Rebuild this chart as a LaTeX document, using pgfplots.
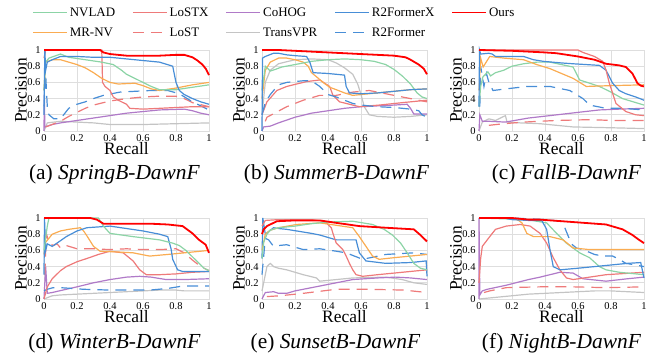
\documentclass[border=0pt]{standalone}
\usepackage{pgfplots}
\pgfplotsset{compat=1.18}
\usepackage{fontspec}
\setmainfont{Liberation Serif}
\definecolor{cNV}{RGB}{140,212,166}
\definecolor{cMR}{RGB}{250,172,82}
\definecolor{cLX}{RGB}{238,122,122}
\definecolor{cCH}{RGB}{176,122,200}
\definecolor{cTV}{RGB}{196,196,196}
\definecolor{cRX}{RGB}{72,142,215}
\definecolor{cOurs}{RGB}{255,0,0}
\tikzset{
  nv/.style={color=cNV, line width=1.2bp},
  mr/.style={color=cMR, line width=1.2bp},
  lx/.style={color=cLX, line width=1.2bp},
  ls/.style={color=cLX, line width=1.2bp, dash pattern=on 11bp off 7bp},
  ch/.style={color=cCH, line width=1.2bp},
  tv/.style={color=cTV, line width=1.2bp},
  rx/.style={color=cRX, line width=1.2bp},
  rf/.style={color=cRX, line width=1.2bp, dash pattern=on 11bp off 7bp},
  ours/.style={color=cOurs, line width=1.8bp},
}
\pgfplotsset{
  pr/.style={scale only axis, width=165bp, height=81bp, anchor=south west,
    xmin=0, xmax=1, ymin=0, ymax=1,
    xtick={0,0.2,0.4,0.6,0.8,1}, ytick={0,0.2,0.4,0.6,0.8,1},
    grid=major, major grid style={black!13, line width=0.7bp},
    axis line style={black!13}, major tick length=0pt,
    tick label style={font=\fontsize{10.5}{10.5}\selectfont},
    /pgf/number format/assume math mode=true,
    xlabel={Recall}, ylabel={Precision},
    every axis y label/.style={at={(axis description cs:0,0.5)}, xshift=-23bp, anchor=center, rotate=90, font=\fontsize{17.5}{17.5}\selectfont},
    every axis x label/.style={at={(axis description cs:0.5,0)}, anchor=center, yshift=-18bp, font=\fontsize{17.5}{17.5}\selectfont},
    clip=false, no marks},
}
\newcommand{\subcap}[3]{\node[font=\fontsize{21.5}{21.5}\selectfont, anchor=base] at (axis description cs:0.5,0) [yshift=-49bp, xshift=#3] {(#1) \textit{#2}};}
\begin{document}
\begin{tikzpicture}
\path[use as bounding box] (0,0) rectangle (660bp,356bp);
% legend
\begin{axis}[at={(0,0)}, anchor=south west, scale only axis, width=660bp, height=356bp, hide axis,
  xmin=0, xmax=1, ymin=0, ymax=1, legend columns=5, legend cell align=left,
  legend style={at={(0.0485,0.985)}, anchor=north west, draw=none, fill=none, inner sep=0pt,
    font=\fontsize{13}{13}\selectfont, nodes={font=\fontsize{13}{13}\selectfont}, row sep=6bp,
    /tikz/every even column/.append style={column sep=15bp}},
  legend image code/.code={\draw[#1, line width=1.6bp] (0bp,0bp) -- (34bp,0bp);}]
\addlegendimage{nv, draw=cNV}\addlegendentry{NVLAD}
\addlegendimage{lx, draw=cLX}\addlegendentry{LoSTX}
\addlegendimage{ch, draw=cCH}\addlegendentry{CoHOG}
\addlegendimage{rx, draw=cRX}\addlegendentry{R2FormerX}
\addlegendimage{ours, draw=cOurs}\addlegendentry{Ours}
\addlegendimage{mr, draw=cMR}\addlegendentry{MR-NV}
\addlegendimage{ls, draw=cLX}\addlegendentry{LoST}
\addlegendimage{tv, draw=cTV}\addlegendentry{TransVPR}
\addlegendimage{rf, draw=cRX}\addlegendentry{R2Former}
\end{axis}
% (a)
\begin{axis}[pr, at={(44bp,225bp)}]
\addplot[tv] coordinates {(0,0) (0.02,0.1) (0.1,0.12) (0.2,0.11) (0.3,0.1) (0.4,0.08) (0.6,0.08) (0.8,0.09) (1,0.1)};
\addplot[ch] coordinates {(0,0) (0.002,0.45) (0.005,0.05) (0.05,0.08) (0.1,0.1) (0.3,0.16) (0.5,0.22) (0.7,0.26) (0.85,0.27) (0.9,0.25) (0.95,0.22) (1,0.2)};
\addplot[ls] coordinates {(0.01,0.05) (0.1,0.12) (0.15,0.18) (0.2,0.23) (0.25,0.28) (0.3,0.32) (0.4,0.37) (0.5,0.4) (0.6,0.42) (0.7,0.43) (0.8,0.43) (0.85,0.4) (0.9,0.35) (1,0.3)};
\addplot[rf] coordinates {(0,0.3) (0.01,0.7) (0.02,0.3) (0.03,0.2) (0.06,0.15) (0.1,0.15) (0.15,0.28) (0.2,0.33) (0.25,0.36) (0.3,0.4) (0.36,0.44) (0.46,0.48) (0.55,0.49) (0.65,0.5) (0.75,0.5) (0.82,0.46) (0.9,0.36) (1,0.26)};
\addplot[lx] coordinates {(0,0.9) (0.01,1) (0.35,1) (0.355,0.6) (0.37,0.55) (0.4,0.5) (0.42,0.42) (0.45,0.38) (0.5,0.33) (0.52,0.28) (0.6,0.27) (0.8,0.29) (0.9,0.3) (1,0.3)};
\addplot[mr] coordinates {(0,0.5) (0.01,0.85) (0.05,0.88) (0.1,0.88) (0.15,0.85) (0.2,0.82) (0.25,0.78) (0.3,0.72) (0.35,0.65) (0.4,0.6) (0.45,0.58) (0.55,0.59) (0.6,0.56) (0.65,0.52) (0.7,0.5) (0.8,0.53) (0.9,0.57) (1,0.6)};
\addplot[nv] coordinates {(0,0.5) (0.01,0.85) (0.03,0.9) (0.1,0.95) (0.15,0.91) (0.25,0.88) (0.35,0.85) (0.42,0.82) (0.47,0.75) (0.5,0.7) (0.55,0.65) (0.6,0.6) (0.65,0.55) (0.7,0.51) (0.8,0.51) (0.9,0.54) (1,0.57)};
\addplot[rx] coordinates {(0,0.2) (0.005,1) (0.01,0.75) (0.02,0.85) (0.05,0.88) (0.1,0.92) (0.2,0.92) (0.3,0.91) (0.4,0.91) (0.5,0.89) (0.6,0.87) (0.7,0.85) (0.78,0.8) (0.8,0.6) (0.82,0.5) (0.85,0.45) (0.9,0.4) (0.95,0.36) (1,0.33)};
\addplot[ours] coordinates {(0,1) (0.34,1) (0.36,0.97) (0.4,0.95) (0.5,0.93) (0.6,0.93) (0.7,0.93) (0.8,0.94) (0.85,0.94) (0.9,0.91) (0.93,0.87) (0.96,0.82) (0.98,0.77) (1,0.69)};
\subcap{a}{SpringB-DawnF}{-12bp}
\end{axis}
% (b)
\begin{axis}[pr, at={(262bp,225bp)}]
\addplot[tv] coordinates {(0,0.2) (0.02,0.6) (0.05,0.75) (0.1,0.83) (0.2,0.88) (0.3,0.89) (0.4,0.88) (0.45,0.84) (0.5,0.78) (0.55,0.7) (0.58,0.58) (0.6,0.45) (0.62,0.3) (0.65,0.2) (0.7,0.18) (0.8,0.17) (0.9,0.18) (1,0.2)};
\addplot[ch] coordinates {(0,0) (0.01,0.05) (0.05,0.06) (0.1,0.1) (0.2,0.17) (0.3,0.22) (0.4,0.25) (0.5,0.28) (0.6,0.3) (0.7,0.31) (0.8,0.32) (0.88,0.33) (0.9,0.28) (0.92,0.21) (1,0.21)};
\addplot[ls] coordinates {(0.02,0.12) (0.03,0.17) (0.15,0.3) (0.25,0.38) (0.35,0.44) (0.45,0.44) (0.55,0.48) (0.65,0.5) (0.75,0.46) (0.85,0.42) (0.95,0.38) (1,0.36)};
\addplot[lx] coordinates {(0,0.2) (0.03,0.36) (0.09,0.5) (0.15,0.55) (0.27,0.61) (0.35,0.63) (0.41,0.55) (0.43,0.44) (0.47,0.36) (0.55,0.32) (0.59,0.3) (0.71,0.32) (0.85,0.35) (1,0.38)};
\addplot[rf] coordinates {(0,0.2) (0.02,0.35) (0.05,0.45) (0.1,0.57) (0.15,0.6) (0.2,0.61) (0.25,0.62) (0.3,0.62) (0.35,0.55) (0.4,0.45) (0.45,0.42) (0.5,0.38) (0.55,0.34) (0.6,0.32) (0.7,0.3) (0.8,0.29) (0.9,0.27) (0.95,0.25) (0.97,0.2) (1,0.17)};
\addplot[mr] coordinates {(0,0.4) (0.02,0.75) (0.05,0.85) (0.1,0.9) (0.15,0.9) (0.2,0.88) (0.25,0.85) (0.28,0.8) (0.3,0.72) (0.33,0.67) (0.37,0.6) (0.41,0.54) (0.45,0.51) (0.5,0.47) (0.55,0.44) (0.6,0.45) (0.7,0.47) (0.8,0.49) (0.9,0.51) (1,0.52)};
\addplot[nv] coordinates {(0,0.5) (0.02,0.8) (0.05,0.74) (0.08,0.76) (0.12,0.79) (0.2,0.82) (0.3,0.86) (0.4,0.88) (0.5,0.89) (0.6,0.88) (0.68,0.86) (0.75,0.82) (0.8,0.76) (0.85,0.68) (0.9,0.58) (0.94,0.47) (0.97,0.42) (1,0.4)};
\addplot[rx] coordinates {(0,0) (0.003,0.9) (0.02,0.92) (0.07,0.96) (0.1,0.96) (0.15,0.94) (0.2,0.93) (0.27,0.92) (0.29,0.85) (0.31,0.72) (0.4,0.71) (0.5,0.69) (0.51,0.55) (0.53,0.47) (0.6,0.46) (0.7,0.47) (0.8,0.49) (0.9,0.51) (1,0.52)};
\addplot[ours] coordinates {(0,1) (0.1,1) (0.3,0.98) (0.4,0.97) (0.5,0.96) (0.6,0.95) (0.7,0.94) (0.8,0.93) (0.87,0.91) (0.9,0.88) (0.95,0.82) (0.98,0.77) (1,0.7)};
\subcap{b}{SummerB-DawnF}{-8bp}
\end{axis}
% (c)
\begin{axis}[pr, at={(479bp,225bp)}]
\addplot[tv] coordinates {(0,0) (0.02,0.11) (0.06,0.15) (0.1,0.13) (0.16,0.19) (0.17,0.11) (0.25,0.1) (0.37,0.09) (0.57,0.05) (0.8,0.04) (1,0.03)};
\addplot[ch] coordinates {(0,0) (0.005,0.2) (0.02,0.12) (0.06,0.12) (0.16,0.11) (0.3,0.16) (0.43,0.19) (0.6,0.23) (0.73,0.26) (0.85,0.27) (1,0.28)};
\addplot[ls] coordinates {(0.06,0.07) (0.15,0.09) (0.27,0.11) (0.47,0.13) (0.67,0.14) (0.81,0.13) (1,0.13)};
\addplot[rf] coordinates {(0.005,0.3) (0.01,0.8) (0.03,0.55) (0.045,0.71) (0.06,0.6) (0.085,0.5) (0.165,0.52) (0.29,0.55) (0.43,0.55) (0.55,0.5) (0.63,0.4) (0.67,0.32) (0.77,0.28) (0.87,0.28) (1,0.26)};
\addplot[nv] coordinates {(0,0.3) (0.01,0.55) (0.024,0.67) (0.054,0.73) (0.07,0.68) (0.1,0.72) (0.15,0.75) (0.2,0.8) (0.27,0.83) (0.35,0.85) (0.43,0.85) (0.5,0.82) (0.57,0.79) (0.61,0.63) (0.73,0.55) (0.8,0.48) (0.87,0.4) (1,0.32)};
\addplot[mr] coordinates {(0,0.5) (0.01,0.9) (0.025,0.79) (0.065,0.92) (0.15,0.9) (0.27,0.88) (0.35,0.82) (0.43,0.77) (0.5,0.71) (0.57,0.65) (0.65,0.55) (0.8,0.56) (1,0.57)};
\addplot[rx] coordinates {(0,0.3) (0.003,1) (0.01,0.95) (0.06,0.96) (0.08,0.95) (0.1,0.92) (0.2,0.92) (0.27,0.92) (0.33,0.88) (0.39,0.86) (0.5,0.84) (0.57,0.83) (0.73,0.81) (0.77,0.75) (0.81,0.59) (0.85,0.5) (0.89,0.46) (0.95,0.42) (1,0.38)};
\addplot[lx] coordinates {(0,1) (0.6,1) (0.63,0.97) (0.7,0.92) (0.75,0.86) (0.77,0.75) (0.79,0.59) (0.83,0.34) (0.89,0.24) (0.95,0.2) (1,0.19)};
\addplot[ours] coordinates {(0,1) (0.2,0.99) (0.3,0.98) (0.4,0.97) (0.47,0.96) (0.6,0.92) (0.7,0.88) (0.77,0.83) (0.85,0.81) (0.89,0.79) (0.93,0.71) (0.96,0.59) (0.98,0.56) (1,0.55)};
\subcap{c}{FallB-DawnF}{5bp}
\end{axis}
% (d)
\begin{axis}[pr, at={(44bp,57bp)}]
\addplot[tv] coordinates {(0,0) (0.05,0.04) (0.1,0.05) (0.2,0.06) (0.3,0.07) (0.5,0.09) (0.7,0.11) (0.8,0.11) (0.85,0.1) (1,0.1)};
\addplot[ch] coordinates {(0,0) (0.01,0.4) (0.02,0.07) (0.05,0.08) (0.135,0.12) (0.2,0.15) (0.3,0.2) (0.4,0.24) (0.5,0.27) (0.58,0.28) (0.65,0.27) (0.74,0.24) (0.85,0.24) (1,0.25)};
\addplot[rf] coordinates {(0,0.1) (0.02,0.12) (0.055,0.14) (0.1,0.14) (0.24,0.12) (0.4,0.11) (0.64,0.11) (0.75,0.13) (0.84,0.16) (1,0.16)};
\addplot[ls] coordinates {(0.005,0.3) (0.014,0.81) (0.03,0.7) (0.055,0.66) (0.08,0.68) (0.1,0.63) (0.135,0.66) (0.2,0.62) (0.3,0.62) (0.4,0.61) (0.5,0.62) (0.6,0.61) (0.7,0.61) (0.8,0.62) (0.85,0.57) (0.9,0.48) (0.95,0.4) (1,0.35)};
\addplot[lx] coordinates {(0,0) (0.02,0.15) (0.05,0.25) (0.1,0.35) (0.135,0.4) (0.2,0.46) (0.26,0.5) (0.33,0.55) (0.4,0.59) (0.48,0.57) (0.54,0.47) (0.58,0.36) (0.62,0.3) (0.7,0.3) (0.8,0.31) (0.9,0.33) (1,0.34)};
\addplot[mr] coordinates {(0,0.55) (0.01,0.7) (0.03,0.75) (0.05,0.8) (0.1,0.84) (0.15,0.86) (0.22,0.88) (0.24,0.84) (0.26,0.78) (0.3,0.65) (0.34,0.59) (0.45,0.58) (0.54,0.57) (0.64,0.53) (0.75,0.55) (0.85,0.57) (1,0.6)};
\addplot[rx] coordinates {(0,0.3) (0.003,1) (0.01,0.6) (0.02,0.68) (0.05,0.65) (0.1,0.72) (0.135,0.77) (0.2,0.84) (0.26,0.88) (0.33,0.89) (0.4,0.9) (0.5,0.87) (0.6,0.84) (0.7,0.8) (0.75,0.77) (0.77,0.62) (0.78,0.49) (0.81,0.36) (0.84,0.34) (1,0.34)};
\addplot[nv] coordinates {(0,0.6) (0.01,0.75) (0.02,0.9) (0.03,1) (0.33,1) (0.36,0.9) (0.4,0.81) (0.47,0.79) (0.54,0.77) (0.62,0.75) (0.7,0.73) (0.78,0.69) (0.82,0.66) (0.86,0.6) (0.9,0.52) (0.94,0.44) (0.97,0.38) (1,0.35)};
\addplot[ours] coordinates {(0,1) (0.28,1) (0.32,0.98) (0.36,0.93) (0.45,0.93) (0.64,0.93) (0.75,0.92) (0.84,0.9) (0.9,0.81) (0.94,0.73) (0.98,0.67) (1,0.57)};
\subcap{d}{WinterB-DawnF}{-12bp}
\end{axis}
% (e)
\begin{axis}[pr, at={(262bp,57bp)}]
\addplot[ls] coordinates {(0.03,0.03) (0.11,0.04) (0.25,0.07) (0.45,0.12) (0.65,0.12) (0.86,0.11) (1,0.08)};
\addplot[tv] coordinates {(0,0.1) (0.02,0.3) (0.03,0.4) (0.05,0.44) (0.07,0.4) (0.1,0.38) (0.15,0.36) (0.2,0.33) (0.25,0.3) (0.33,0.26) (0.35,0.22) (0.45,0.24) (0.55,0.26) (0.75,0.27) (0.85,0.24) (0.92,0.2) (1,0.18)};
\addplot[ch] coordinates {(0,0) (0.02,0.08) (0.07,0.09) (0.1,0.07) (0.15,0.07) (0.2,0.1) (0.35,0.16) (0.45,0.2) (0.55,0.24) (0.7,0.26) (0.81,0.27) (0.9,0.26) (1,0.24)};
\addplot[rf] coordinates {(0,0.3) (0.02,0.75) (0.04,0.73) (0.07,0.65) (0.1,0.66) (0.15,0.67) (0.25,0.61) (0.35,0.62) (0.45,0.59) (0.51,0.57) (0.61,0.49) (0.75,0.55) (0.92,0.57) (1,0.55)};
\addplot[rx] coordinates {(0,0.5) (0.005,1) (0.02,0.8) (0.07,0.88) (0.1,0.87) (0.15,0.86) (0.21,0.84) (0.3,0.81) (0.35,0.79) (0.45,0.73) (0.57,0.73) (0.59,0.57) (0.63,0.47) (0.75,0.44) (0.9,0.45) (0.995,0.47) (1,0.28)};
\addplot[lx] coordinates {(0,0.9) (0.02,0.97) (0.1,0.98) (0.3,0.98) (0.38,0.96) (0.42,0.88) (0.43,0.81) (0.45,0.69) (0.49,0.61) (0.51,0.53) (0.53,0.44) (0.55,0.36) (0.57,0.3) (0.61,0.28) (0.7,0.3) (0.8,0.32) (0.9,0.34) (1,0.36)};
\addplot[mr] coordinates {(0,0.6) (0.02,0.8) (0.05,0.85) (0.1,0.88) (0.21,0.92) (0.35,0.94) (0.45,0.91) (0.55,0.88) (0.59,0.77) (0.63,0.65) (0.67,0.53) (0.71,0.49) (0.8,0.51) (0.9,0.53) (1,0.55)};
\addplot[nv] coordinates {(0,0.5) (0.01,0.7) (0.03,0.8) (0.05,0.85) (0.1,0.88) (0.2,0.9) (0.3,0.93) (0.4,0.95) (0.55,0.96) (0.67,0.92) (0.74,0.86) (0.79,0.79) (0.84,0.69) (0.88,0.57) (0.92,0.44) (0.96,0.38) (1,0.36)};
\addplot[ours] coordinates {(0,0.8) (0.01,0.86) (0.03,0.9) (0.09,0.96) (0.2,0.97) (0.35,0.97) (0.45,0.94) (0.59,0.9) (0.75,0.88) (0.92,0.86) (0.96,0.79) (1,0.71)};
\subcap{e}{SunsetB-DawnF}{-9bp}
\end{axis}
% (f)
\begin{axis}[pr, at={(479bp,57bp)}]
\addplot[tv] coordinates {(0,0) (0.1,0.02) (0.2,0.04) (0.3,0.06) (0.4,0.07) (0.5,0.08) (0.6,0.09) (0.7,0.1) (0.8,0.1) (0.9,0.09) (1,0.08)};
\addplot[ls] coordinates {(0.03,0.08) (0.065,0.1) (0.165,0.14) (0.37,0.15) (0.57,0.15) (0.77,0.14) (1,0.15)};
\addplot[ch] coordinates {(0,0) (0,1) (0.005,0.05) (0.02,0.1) (0.05,0.12) (0.165,0.17) (0.3,0.24) (0.37,0.27) (0.49,0.33) (0.57,0.32) (0.63,0.25) (0.77,0.22) (0.9,0.25) (1,0.27)};
\addplot[lx] coordinates {(0,0.2) (0.01,0.5) (0.02,0.65) (0.065,0.77) (0.1,0.86) (0.165,0.9) (0.25,0.92) (0.31,0.9) (0.37,0.81) (0.41,0.69) (0.45,0.51) (0.49,0.36) (0.53,0.26) (0.57,0.24) (0.77,0.3) (1,0.33)};
\addplot[rf] coordinates {(0,1) (0.2,1) (0.3,0.99) (0.4,0.98) (0.5,0.96) (0.52,0.88) (0.54,0.78) (0.56,0.68) (0.59,0.63) (0.63,0.61) (0.7,0.55) (0.75,0.53) (0.81,0.53) (0.85,0.49) (0.89,0.44) (0.95,0.42) (1,0.4)};
\addplot[nv] coordinates {(0,1) (0.3,0.98) (0.35,0.96) (0.41,0.94) (0.47,0.81) (0.53,0.69) (0.61,0.57) (0.67,0.51) (0.73,0.4) (0.77,0.36) (0.85,0.33) (1,0.3)};
\addplot[mr] coordinates {(0,1) (0.2,1) (0.24,0.97) (0.26,0.94) (0.29,0.81) (0.33,0.77) (0.43,0.77) (0.51,0.73) (0.57,0.63) (0.67,0.61) (0.8,0.61) (1,0.61)};
\addplot[rx] coordinates {(0,1) (0.15,1) (0.2,0.98) (0.3,0.97) (0.38,0.97) (0.41,0.86) (0.43,0.61) (0.45,0.4) (0.49,0.36) (0.6,0.38) (0.7,0.4) (0.8,0.42) (0.9,0.44) (0.98,0.45) (1,0.26)};
\addplot[ours] coordinates {(0,1) (0.2,1) (0.3,0.98) (0.37,0.98) (0.57,0.95) (0.77,0.92) (0.87,0.86) (0.93,0.79) (0.97,0.73) (1,0.69)};
\subcap{f}{NightB-DawnF}{0bp}
\end{axis}
\end{tikzpicture}
\end{document}
